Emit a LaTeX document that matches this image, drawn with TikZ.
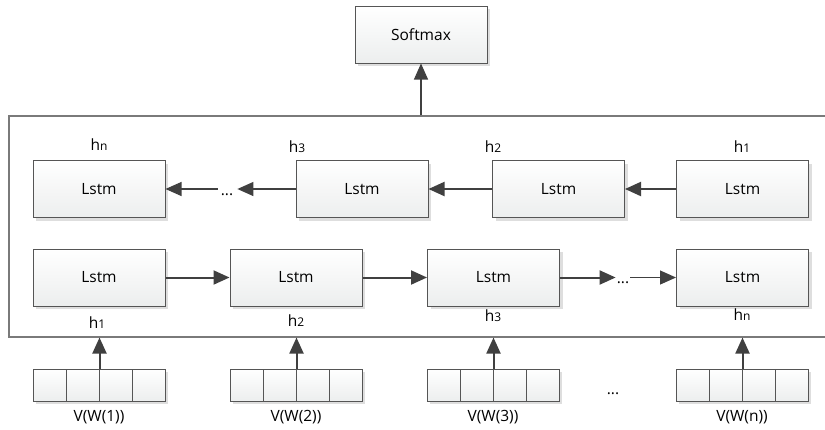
\documentclass[tikz,border=0pt]{standalone}
\usepackage{fontspec}
\setmainfont{Open Sans}
\usetikzlibrary{arrows.meta,shadows}
\definecolor{boxline}{HTML}{555555}
\definecolor{arrowc}{HTML}{404040}
\definecolor{frameline}{HTML}{7A7A7A}
\definecolor{boxbot}{HTML}{ECEEEE}
\newcommand{\hlab}[1]{{\fontsize{15.5}{15.5}\selectfont h}{\fontsize{12}{12}\selectfont #1}}
\tikzset{
  lstmbox/.style={draw=boxline, line width=1pt, top color=white, bottom color=boxbot,
    minimum width=132pt, minimum height=57pt, inner sep=0pt,
    drop shadow={shadow xshift=3pt, shadow yshift=-3pt, fill=black!13, opacity=1},
    font=\fontsize{15.5}{15.5}\selectfont},
  cellbox/.style={draw=boxline, line width=1pt, top color=white, bottom color=boxbot,
    minimum width=33pt, minimum height=32pt, inner sep=0pt,
    drop shadow={shadow xshift=3pt, shadow yshift=-3pt, fill=black!13, opacity=1}},
  thickarrow/.style={draw=arrowc, line width=2pt, -{Triangle[length=16pt,width=14pt]}},
  thinarrow/.style={draw=arrowc, line width=1.1pt, -{Triangle[length=16pt,width=14pt]}},
  lab/.style={inner sep=1pt},
  txt/.style={inner sep=1pt, font=\fontsize{15.5}{15.5}\selectfont},
}
\begin{document}
\begin{tikzpicture}[x=1pt,y=-1pt]
\useasboundingbox (0,0) rectangle (825,429);
\clip (0,0) rectangle (825,429);
\fill[white] (0,0) rectangle (825,429);
% frame
\node[draw=frameline, line width=1.1pt, minimum width=831pt, minimum height=221pt, inner sep=0pt] (frame) at (424.5,226.5) {};
% softmax
\node[lstmbox] (soft) at (421,34.5) {Softmax};
\draw[thinarrow] (soft.south |- frame.north) -- (soft.south);
% top row
\node[lstmbox] (t1) at (99,189) {Lstm};
\node[lstmbox] (t2) at (362,189) {Lstm};
\node[lstmbox] (t3) at (558.5,189) {Lstm};
\node[lstmbox] (t4) at (742.5,189) {Lstm};
\node[txt] (tdots) at (227,195) {...};
\draw[thickarrow] (t4.west) -- (t3.east);
\draw[thickarrow] (t3.west) -- (t2.east);
\draw[thinarrow] (t2.west) -- ([xshift=3pt]tdots.east |- t2.west);
\draw[thinarrow] ([xshift=-2pt]tdots.west |- t1.east) -- (t1.east);
% bottom row
\node[lstmbox] (b1) at (99,277.5) {Lstm};
\node[lstmbox] (b2) at (296,277.5) {Lstm};
\node[lstmbox] (b3) at (493.5,277.5) {Lstm};
\node[lstmbox] (b4) at (742.5,277.5) {Lstm};
\node[txt] (bdots) at (623,283) {...};
\draw[thickarrow] (b1.east) -- (b2.west);
\draw[thickarrow] (b2.east) -- (b3.west);
\draw[thickarrow] (b3.east) -- (bdots.west |- b3.east);
\draw[thinarrow] (bdots.east |- b4.west) -- (b4.west);
% h labels
\node[lab] (th1) at (99,145) {\hlab{n}};
\node[lab] (th2) at (297,147) {\hlab{3}};
\node[lab] (th3) at (493,147) {\hlab{2}};
\node[lab] (th4) at (742,147) {\hlab{1}};
\node[lab] (bh1) at (97,323) {\hlab{1}};
\node[lab] (bh2) at (296,321) {\hlab{2}};
\node[lab] (bh3) at (493,316) {\hlab{3}};
\node[lab] (bh4) at (742,315) {\hlab{n}};
% vectors
\foreach \i/\cx/\t in {1/99/1, 2/296/2, 3/493/3, 4/742/n} {
  \node[cellbox] (v\i a) at (\cx-49.5,385) {};
  \node[cellbox] (v\i b) at (\cx-16.5,385) {};
  \node[cellbox] (v\i c) at (\cx+16.5,385) {};
  \node[cellbox] (v\i d) at (\cx+49.5,385) {};
  \node[txt] (vl\i) at (\cx,417) {V(W(\t))};
  \draw[thickarrow] (v\i b.north east) -- (v\i b.north east |- frame.south);
}
\node[txt] (vdots) at (613,394) {...};
\end{tikzpicture}
\end{document}
